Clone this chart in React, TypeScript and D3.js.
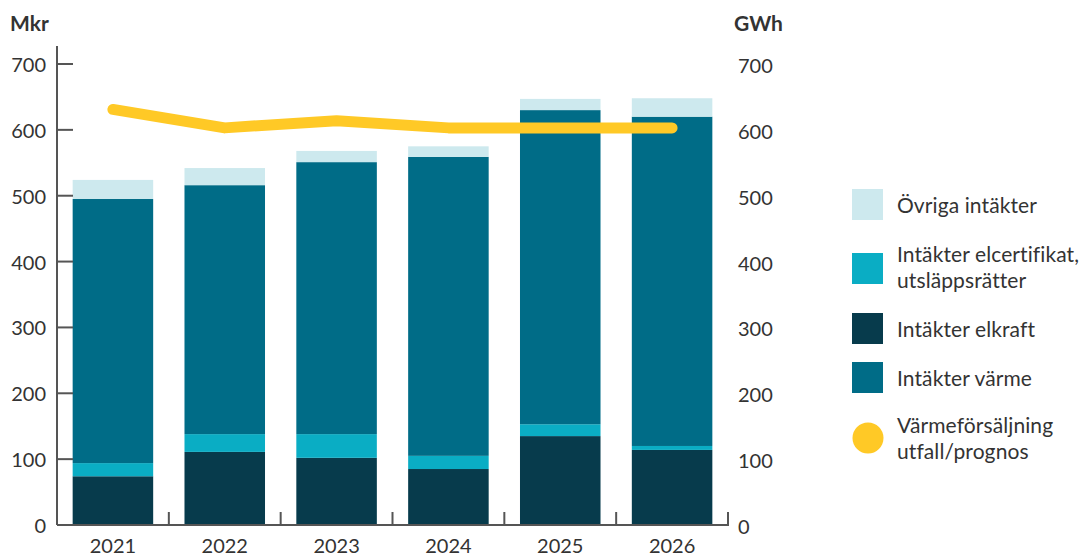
import React from "react";
import * as d3 from "d3";

const years = ["2021", "2022", "2023", "2024", "2025", "2026"];
const elkraft = [74, 111, 102, 85, 135, 114];
const elcert = [20, 27, 36, 20, 18, 6];
const varme = [401, 378, 413, 454, 477, 500];
const ovriga = [29, 26, 17, 16, 17, 28];
const forsaljning = [631, 603, 614, 603, 603, 603];
const yTicks = [0, 100, 200, 300, 400, 500, 600, 700];

const seriesKeys = ["elkraft", "elcert", "varme", "ovriga"];
const colors: Record<string, string> = {
  elkraft: "#073b4c",
  elcert: "#0aadc4",
  varme: "#006c87",
  ovriga: "#cde9ee",
};
const lineColor = "#ffc926";
const textColor = "#333333";
const axisColor = "#555555";
const font = "Lato, 'Open Sans', sans-serif";

const legendItems = [
  { key: "ovriga", lines: ["Övriga intäkter"], y: 189 },
  { key: "elcert", lines: ["Intäkter elcertifikat,", "utsläppsrätter"], y: 253 },
  { key: "elkraft", lines: ["Intäkter elkraft"], y: 313 },
  { key: "varme", lines: ["Intäkter värme"], y: 362 },
];

export default function App() {
  const W = 1083;
  const H = 556;
  const x0 = 57;
  const x1 = 728;
  const y0 = 525;
  const yTop = 64;

  const x = d3.scaleBand<string>().domain(years).range([x0, x1]).paddingInner(0.28).paddingOuter(0.14);
  const y = d3.scaleLinear().domain([0, 700]).range([y0, yTop]);
  const yR = d3.scaleLinear().domain([0, 700]).range([y0, yTop]);

  const table = years.map((yr, i) => ({
    year: yr,
    elkraft: elkraft[i],
    elcert: elcert[i],
    varme: varme[i],
    ovriga: ovriga[i],
  }));
  const stack = d3.stack<any>().keys(seriesKeys)(table);

  const line = d3
    .line<number>()
    .x((_, i) => (x(years[i]) as number) + x.bandwidth() / 2)
    .y((d) => yR(d));

  const step = x.step();
  const bottomTicks = years.map((_, i) => x0 + step * (i + 1));

  return (
    <svg
      width={W}
      height={H}
      style={{
        display: "block",
        position: "absolute",
        left: 0,
        top: 0,
        fontVariantLigatures: "none",
        fontFeatureSettings: "'liga' 0, 'clig' 0",
      }}
      fontFamily={font}
    >
      <rect width={W} height={H} fill="#ffffff" />
      {stack.map((s) => (
        <g key={s.key} fill={colors[s.key]}>
          {s.map((d, i) => (
            <rect
              key={i}
              x={x(years[i])}
              width={x.bandwidth()}
              y={y(d[1])}
              height={y(d[0]) - y(d[1])}
            />
          ))}
        </g>
      ))}
      {/* left axis */}
      <line x1={x0} x2={x0} y1={46} y2={y0} stroke={axisColor} strokeWidth={2} />
      {yTicks.map((t) => (
        <g key={t}>
          <line x1={x0} x2={x0 + 16} y1={y(t)} y2={y(t)} stroke={axisColor} strokeWidth={2} />
          <text x={46} y={y(t) + 3} textAnchor="end" dominantBaseline="middle" fontSize={20} fill={textColor}>
            {t}
          </text>
          <text x={738} y={yR(t) + 4} textAnchor="start" dominantBaseline="middle" fontSize={20} fill={textColor}>
            {t}
          </text>
        </g>
      ))}
      {/* bottom axis */}
      <line x1={x0} x2={x1 + 1} y1={y0} y2={y0} stroke={axisColor} strokeWidth={2} />
      {bottomTicks.map((bx, i) => (
        <line key={i} x1={bx} x2={bx} y1={y0} y2={y0 - 13} stroke={axisColor} strokeWidth={2} />
      ))}
      {years.map((yr) => (
        <text
          key={yr}
          x={(x(yr) as number) + x.bandwidth() / 2}
          y={548}
          textAnchor="middle"
          dominantBaseline="middle"
          fontSize={20}
          fill={textColor}
        >
          {yr}
        </text>
      ))}
      <text x={10} y={31} fontSize={21} fontWeight={700} fill={textColor}>
        Mkr
      </text>
      <text x={734} y={31} fontSize={21} fontWeight={700} fill={textColor}>
        GWh
      </text>
      {/* line */}
      <path
        d={line(forsaljning) || ""}
        fill="none"
        stroke={lineColor}
        strokeWidth={11}
        strokeLinecap="round"
        strokeLinejoin="round"
      />
      {/* legend */}
      {legendItems.map((it) => (
        <g key={it.key}>
          <rect x={852} y={it.y} width={31} height={31} fill={colors[it.key]} />
          {it.lines.map((ln, j) => (
            <text
              key={j}
              x={897}
              y={it.y + (it.lines.length === 1 ? 24 : 9 + j * 26)}
              fontSize={21}
              letterSpacing={0.1}
              fill={textColor}
            >
              {ln}
            </text>
          ))}
        </g>
      ))}
      <circle cx={868} cy={438} r={15.5} fill={lineColor} />
      <text x={897} y={433} fontSize={21} letterSpacing={0.1} fill={textColor}>
        Värmeförsäljning
      </text>
      <text x={897} y={459} fontSize={21} letterSpacing={0.1} fill={textColor}>
        utfall/prognos
      </text>
    </svg>
  );
}
